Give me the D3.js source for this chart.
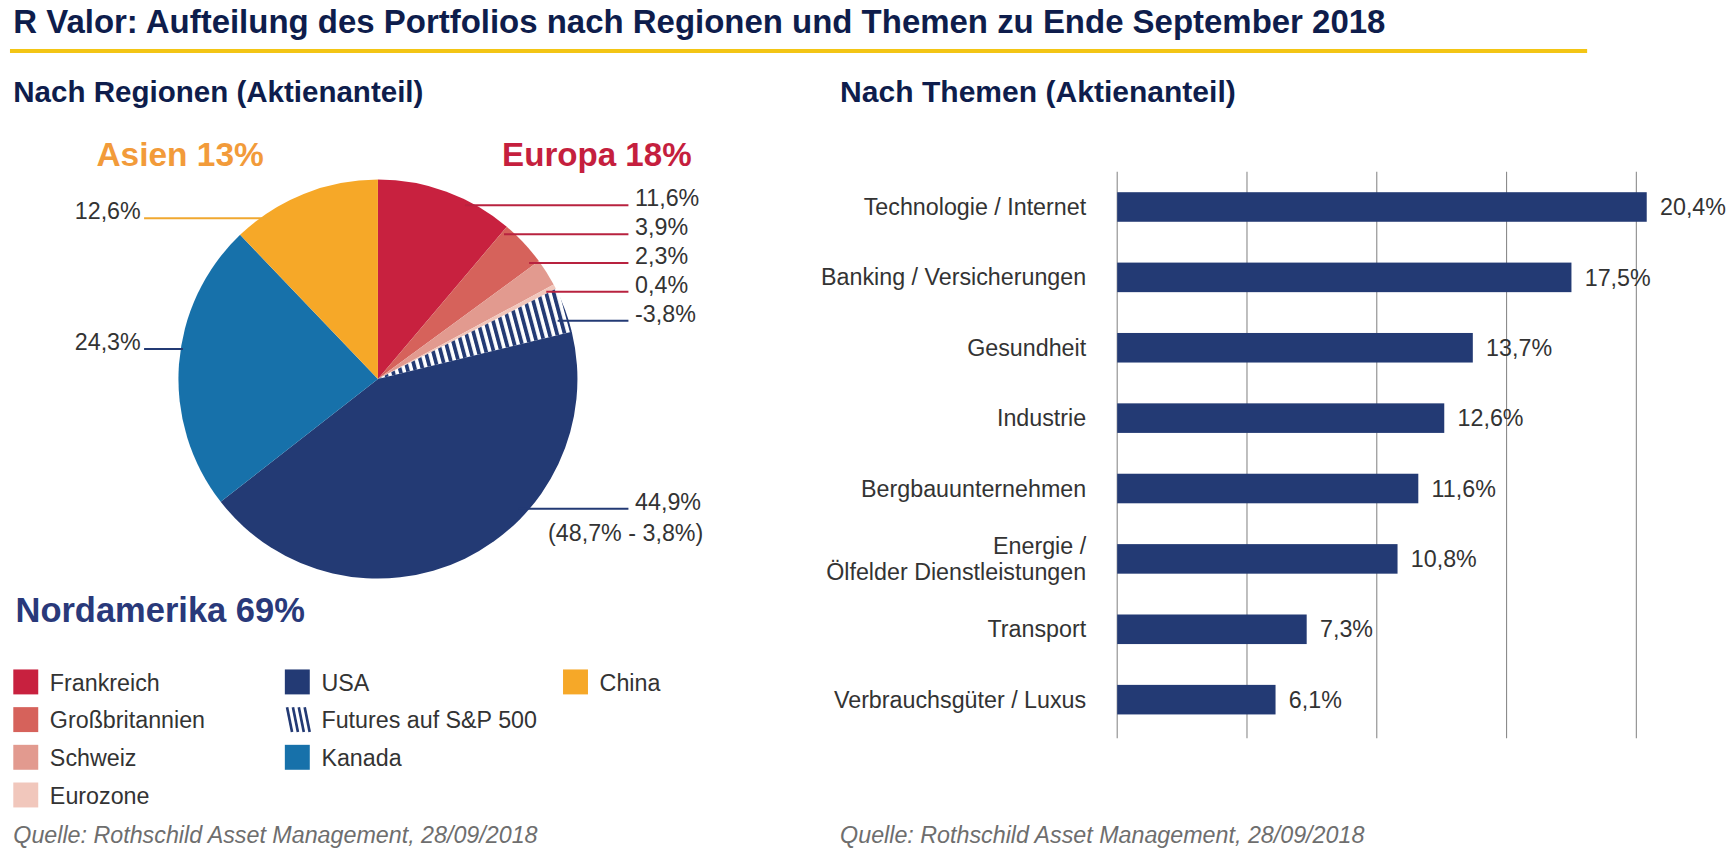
<!DOCTYPE html>
<html>
<head>
<meta charset="utf-8">
<script src="https://cdn.jsdelivr.net/npm/d3@7"></script>
<style>
  html, body { margin: 0; padding: 0; background: #fff; }
  svg { display: block; }
  text { font-family: "Liberation Sans", Arial, sans-serif; }
</style>
</head>
<body>
<div id="chart"></div>
<script>
// ---- data
var regionNames = ["Frankreich", "Großbritannien", "Schweiz", "Eurozone", "Futures auf S&P 500", "USA", "Kanada", "China"];
var regionValues = [11.6, 3.9, 2.3, 0.4, -3.8, 44.9, 24.3, 12.6];
var regionGroups = ["Europa", "Europa", "Europa", "Europa", "Nordamerika", "Nordamerika", "Nordamerika", "Asien"];
var usaNote = "(48,7% - 3,8%)";

var groupNames = ["Asien", "Europa", "Nordamerika"];
var groupTotals = [13, 18, 69];

var legendColumns = [
  ["Frankreich", "Großbritannien", "Schweiz", "Eurozone"],
  ["USA", "Futures auf S&P 500", "Kanada"],
  ["China"]
];

var themeNames = [
  ["Technologie / Internet"],
  ["Banking / Versicherungen"],
  ["Gesundheit"],
  ["Industrie"],
  ["Bergbauunternehmen"],
  ["Energie /", "Ölfelder Dienstleistungen"],
  ["Transport"],
  ["Verbrauchsgüter / Luxus"]
];
var themeValues = [20.4, 17.5, 13.7, 12.6, 11.6, 10.8, 7.3, 6.1];
var themeTicks = [0, 5, 10, 15, 20];

var titleText = "R Valor: Aufteilung des Portfolios nach Regionen und Themen zu Ende September 2018";
var leftHeading = "Nach Regionen (Aktienanteil)";
var rightHeading = "Nach Themen (Aktienanteil)";
var sourceText = "Quelle: Rothschild Asset Management, 28/09/2018";

// ---- styles
var NAVY = "#233A74";
var TITLE_COLOR = "#0E1D4C";
var TEXT_COLOR = "#333333";
var SOURCE_COLOR = "#6E6E6E";
var RULE_COLOR = "#F3C514";
var GRID_COLOR = "#8C8C8C";
var SLICE_COLORS = {
  "Frankreich": "#C8213F",
  "Großbritannien": "#D6625B",
  "Schweiz": "#E29A8F",
  "Eurozone": "#F1C7BC",
  "Futures auf S&P 500": "url(#hatch)",
  "USA": NAVY,
  "Kanada": "#1771AA",
  "China": "#F6A828"
};
var GROUP_COLORS = { "Asien": "#F29B3A", "Europa": "#C51F3E", "Nordamerika": "#29397A" };
var LINE_COLORS = { "Asien": "#F0A830", "Europa": "#B8223F", "Nordamerika": NAVY };

var fmt = d3.formatLocale({ decimal: ",", thousands: ".", grouping: [3], currency: ["", ""], minus: "-" }).format(".1f");
var pct = function(v) { return fmt(v) + "%"; };

// drawing space is laid out at 1560 wide, stretched to the window
var W = 1560, H = 770.5;
var svg = d3.select("#chart").append("svg")
  .attr("width", 1729)
  .attr("height", 854)
  .attr("viewBox", "0 0 " + W + " " + H)
  .attr("preserveAspectRatio", "none");

var defs = svg.append("defs");
var hatch = defs.append("pattern")
  .attr("id", "hatch")
  .attr("patternUnits", "userSpaceOnUse")
  .attr("width", 6.6)
  .attr("height", 12)
  .attr("patternTransform", "rotate(-15)");
hatch.append("rect").attr("width", 6.6).attr("height", 12).attr("fill", "#fff");
hatch.append("rect").attr("width", 3.4).attr("height", 12).attr("fill", NAVY);

var drawHeader = function() {
  svg.append("text")
    .attr("x", 12).attr("y", 30)
    .attr("textLength", 1238).attr("lengthAdjust", "spacingAndGlyphs")
    .style("font-size", "30px").style("font-weight", "bold")
    .style("fill", TITLE_COLOR)
    .text(titleText);

  svg.append("rect")
    .attr("x", 9).attr("y", 44.2)
    .attr("width", 1423).attr("height", 3.6)
    .style("fill", RULE_COLOR);

  svg.append("text")
    .attr("x", 12).attr("y", 92)
    .attr("textLength", 370).attr("lengthAdjust", "spacingAndGlyphs")
    .style("font-size", "26px").style("font-weight", "bold")
    .style("fill", TITLE_COLOR)
    .text(leftHeading);

  svg.append("text")
    .attr("x", 758).attr("y", 92)
    .attr("textLength", 357).attr("lengthAdjust", "spacingAndGlyphs")
    .style("font-size", "26px").style("font-weight", "bold")
    .style("fill", TITLE_COLOR)
    .text(rightHeading);

  [12, 758].forEach(function(x) {
    svg.append("text")
      .attr("x", x).attr("y", 761)
      .style("font-size", "21px").style("font-style", "italic")
      .style("fill", SOURCE_COLOR)
      .text(sourceText);
  });
};

var drawPie = function() {
  var cx = 341, cy = 342, r = 180;
  var LABEL_RIGHT = 573, LINE_RIGHT = 567, LABEL_LEFT = 127, LINE_LEFT = 130;
  var INSET = 10, GAP = 26;
  // hand-tuned shifts for the labels outside the small-slice stack
  var LABEL_NUDGE = { "USA": -45, "Kanada": -14, "China": 22 };

  var slices = regionNames.map(function(name, i) {
    return { name: name, value: regionValues[i], group: regionGroups[i] };
  });
  var arcs = d3.pie().sort(null).value(function(d) { return Math.abs(d.value); })(slices);
  var arc = d3.arc().innerRadius(0).outerRadius(r);

  var g = svg.append("g").attr("transform", "translate(" + cx + "," + cy + ")");
  g.selectAll("path.slice")
    .data(arcs)
    .enter().append("path")
    .attr("class", "slice")
    .attr("d", arc)
    .style("fill", function(d) { return SLICE_COLORS[d.data.name]; });

  // label rows: anchor on the arc at mid angle
  arcs.forEach(function(d) {
    var mid = (d.startAngle + d.endAngle) / 2;
    d.side = Math.sin(mid) >= 0 ? 1 : -1;
    d.y = cy - r * Math.cos(mid);
  });
  var stack = arcs.filter(function(d) { return d.side > 0 && d.y < cy; });
  var mean = d3.mean(stack, function(d) { return d.y; }) + 2;
  stack.forEach(function(d, i) { d.y = mean + (i - (stack.length - 1) / 2) * GAP; });
  arcs.forEach(function(d) {
    if (LABEL_NUDGE[d.data.name] !== undefined) d.y += LABEL_NUDGE[d.data.name];
  });

  arcs.forEach(function(d) {
    var edge = Math.sqrt(Math.max(0, r * r - (d.y - cy) * (d.y - cy)));
    var inset = d.data.name === "Kanada" ? 2 : INSET;
    var x1 = d.side > 0 ? cx + edge - inset : LINE_LEFT;
    var x2 = d.side > 0 ? LINE_RIGHT : cx - edge + inset;
    svg.append("line")
      .attr("x1", x1).attr("y1", d.y)
      .attr("x2", x2).attr("y2", d.y)
      .style("stroke", LINE_COLORS[d.data.group])
      .style("stroke-width", 1.8);

    var label = svg.append("text")
      .attr("x", d.side > 0 ? LABEL_RIGHT : LABEL_LEFT)
      .attr("y", d.y + 1)
      .attr("text-anchor", d.side > 0 ? "start" : "end")
      .style("font-size", "21px")
      .style("fill", TEXT_COLOR)
      .text(pct(d.data.value));

    if (d.data.name === "USA") {
      var box = label.node().getBBox();
      svg.append("text")
        .attr("x", box.x + box.width + 2)
        .attr("y", d.y + 29)
        .attr("text-anchor", "end")
        .style("font-size", "21px")
        .style("fill", TEXT_COLOR)
        .text(usaNote);
    }
  });

  // region totals
  var GROUP_POS = {
    "Asien": { x: 87, y: 150, size: 30, len: 151 },
    "Europa": { x: 453, y: 150, size: 30, len: 171 },
    "Nordamerika": { x: 14, y: 561, size: 31, len: 261 }
  };
  groupNames.forEach(function(name, i) {
    var p = GROUP_POS[name];
    svg.append("text")
      .attr("x", p.x).attr("y", p.y)
      .attr("textLength", p.len).attr("lengthAdjust", "spacingAndGlyphs")
      .style("font-size", p.size + "px").style("font-weight", "bold")
      .style("fill", GROUP_COLORS[name])
      .text(name + " " + groupTotals[i] + "%");
  });
};

var drawLegend = function() {
  var COL_X = [12, 257, 508], ROW_TOP = 604, ROW_STEP = 34, BOX = 22.5;
  legendColumns.forEach(function(col, c) {
    col.forEach(function(name, i) {
      var x = COL_X[c], y = ROW_TOP + i * ROW_STEP;
      if (name === "Futures auf S&P 500") {
        for (var k = 0; k < 4; k++) {
          svg.append("line")
            .attr("x1", x + 2 + k * 5.3).attr("y1", y)
            .attr("x2", x + 6.5 + k * 5.3).attr("y2", y + BOX)
            .style("stroke", NAVY)
            .style("stroke-width", 2.4);
        }
      } else {
        svg.append("rect")
          .attr("x", x).attr("y", y)
          .attr("width", BOX).attr("height", BOX)
          .style("fill", SLICE_COLORS[name]);
      }
      svg.append("text")
        .attr("x", x + 33).attr("y", y + 19)
        .style("font-size", "21px")
        .style("fill", TEXT_COLOR)
        .text(name);
    });
  });
};

var drawBars = function() {
  var x = d3.scaleLinear().domain([0, 20]).range([1008, 1476.4]);
  var y = d3.scaleBand()
    .domain(d3.range(themeValues.length))
    .range([155, 663])
    .paddingInner(0.58)
    .paddingOuter(0.29);

  svg.selectAll("line.grid")
    .data(themeTicks)
    .enter().append("line")
    .attr("class", "grid")
    .attr("x1", function(d) { return x(d); })
    .attr("x2", function(d) { return x(d); })
    .attr("y1", 155).attr("y2", 666)
    .style("stroke", GRID_COLOR)
    .style("stroke-width", 1);

  svg.selectAll("rect.bar")
    .data(themeValues)
    .enter().append("rect")
    .attr("class", "bar")
    .attr("x", x(0))
    .attr("y", function(d, i) { return y(i); })
    .attr("width", function(d) { return x(d) - x(0); })
    .attr("height", y.bandwidth())
    .style("fill", NAVY);

  svg.selectAll("text.value")
    .data(themeValues)
    .enter().append("text")
    .attr("class", "value")
    .attr("x", function(d) { return x(d) + 12; })
    .attr("y", function(d, i) { return y(i) + y.bandwidth() / 2; })
    .attr("dy", "0.35em")
    .style("font-size", "21px")
    .style("fill", TEXT_COLOR)
    .text(pct);

  var LINE_H = 23;
  themeNames.forEach(function(lines, i) {
    var t = svg.append("text")
      .attr("x", 980)
      .attr("y", y(i) + y.bandwidth() / 2)
      .attr("text-anchor", "end")
      .style("font-size", "21px")
      .style("fill", TEXT_COLOR);
    lines.forEach(function(line, j) {
      t.append("tspan")
        .attr("x", 980)
        .attr("dy", j === 0 ? (7.3 - (lines.length - 1) / 2 * LINE_H) : LINE_H)
        .text(line);
    });
  });
};

drawHeader();
drawPie();
drawLegend();
drawBars();
</script>
</body>
</html>
